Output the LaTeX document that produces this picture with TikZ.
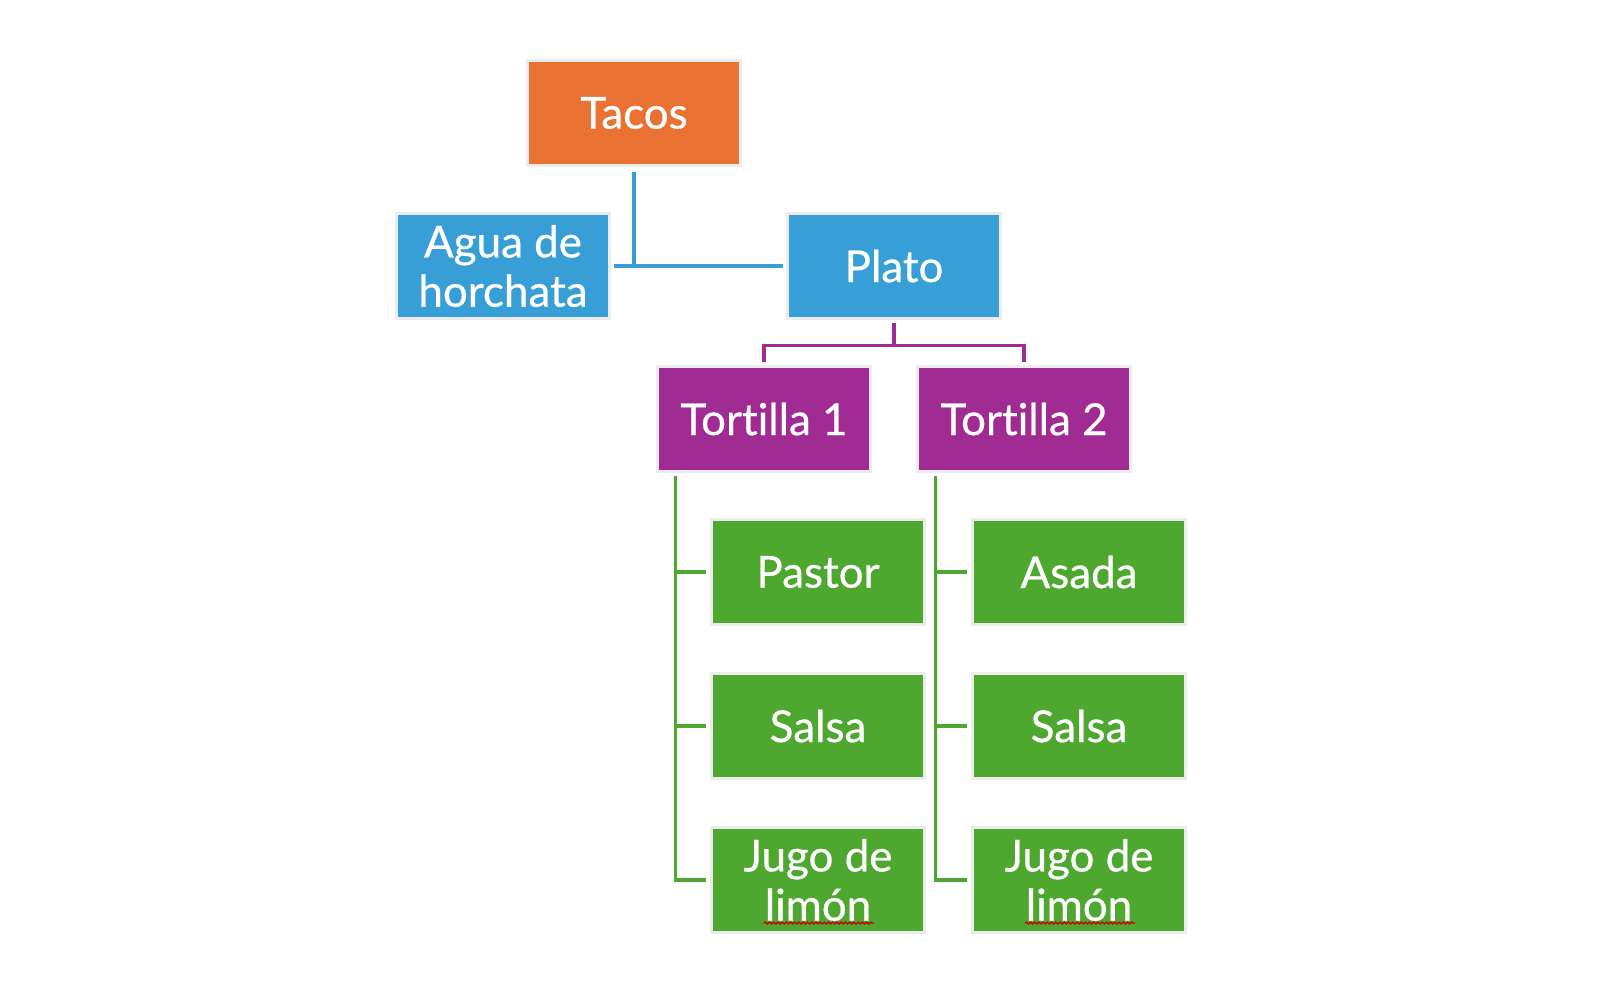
\documentclass[tikz,border=0pt]{standalone}
\usepackage{fontspec}
\newfontfamily\boxfont{Lato}[Ligatures=NoCommon, FakeBold=0.6]
\usepackage{tikz}
\usetikzlibrary{positioning, calc, decorations.pathmorphing}

\definecolor{tacoorange}{HTML}{E97132}
\definecolor{platoblue}{HTML}{389FD6}
\definecolor{tortpurple}{HTML}{A02B93}
\definecolor{fillgreen}{HTML}{4EA72E}

\begin{document}
\begin{tikzpicture}[
    x=1cm, y=1cm,
    every node/.style={font=\boxfont\fontsize{12.5}{14}\selectfont, text=white, align=center},
    box/.style={rectangle, draw=white!85!gray, line width=0.6pt, minimum width=2.13cm, minimum height=1.05cm, inner sep=1pt},
    topbox/.style={box, fill=tacoorange},
    bluebox/.style={box, fill=platoblue},
    purplebox/.style={box, fill=tortpurple},
    greenbox/.style={box, fill=fillgreen},
    conn/.style={line width=0.9pt}
]
\useasboundingbox (0,0) rectangle (16,-9.83);

% Nodes
\node[topbox] (tacos) at (6.34,-1.13) {Tacos};
\node[bluebox] (agua) at (5.03,-2.66) {Agua de\\horchata};
\node[bluebox] (plato) at (8.94,-2.66) {Plato};
\node[purplebox] (tort1) at (7.64,-4.19) {Tortilla 1};
\node[purplebox] (tort2) at (10.24,-4.19) {Tortilla 2};

\node[greenbox] (pastor) at (8.18,-5.72) {Pastor};
\node[greenbox] (salsa1) at (8.18,-7.26) {Salsa};
\node[greenbox] (jugo1) at (8.18,-8.80) {Jugo de\\limón};
\node[greenbox] (asada) at (10.79,-5.72) {Asada};
\node[greenbox] (salsa2) at (10.79,-7.26) {Salsa};
\node[greenbox] (jugo2) at (10.79,-8.80) {Jugo de\\limón};

% Tacos to its parts
\draw[conn, platoblue] ([yshift=-0.05cm]tacos.south) -- (tacos.south |- plato.west);
\draw[conn, platoblue] ([xshift=0.03cm]agua.east) -- ([xshift=-0.03cm]plato.west);

% Plato to the tortillas
\draw[conn, tortpurple] ([yshift=-0.03cm]plato.south) -- ++(0,-0.23) coordinate (pj);
\draw[conn, tortpurple] ([yshift=0.03cm]tort1.north) |- (pj) -| ([yshift=0.03cm]tort2.north);

% Tortillas to the fillings
\coordinate (t1b) at ([xshift=0.19cm,yshift=-0.03cm]tort1.south west);
\coordinate (t2b) at ([xshift=0.19cm,yshift=-0.03cm]tort2.south west);
\draw[conn, fillgreen] (t1b) |- ([xshift=-0.04cm]jugo1.west);
\draw[conn, fillgreen] (t2b) |- ([xshift=-0.04cm]jugo2.west);
\foreach \f in {pastor, salsa1}
    \draw[conn, fillgreen] (t1b |- \f.west) -- ([xshift=-0.04cm]\f.west);
\foreach \f in {asada, salsa2}
    \draw[conn, fillgreen] (t2b |- \f.west) -- ([xshift=-0.04cm]\f.west);

% Spell-check marks
\foreach \j in {jugo1, jugo2}
    \draw[red!80!black, line width=0.4pt, decorate,
        decoration={snake, amplitude=0.25pt, segment length=1.2pt}]
        ([xshift=-0.54cm,yshift=-0.43cm]\j.center) -- ++(1.1,0);

\end{tikzpicture}
\end{document}
